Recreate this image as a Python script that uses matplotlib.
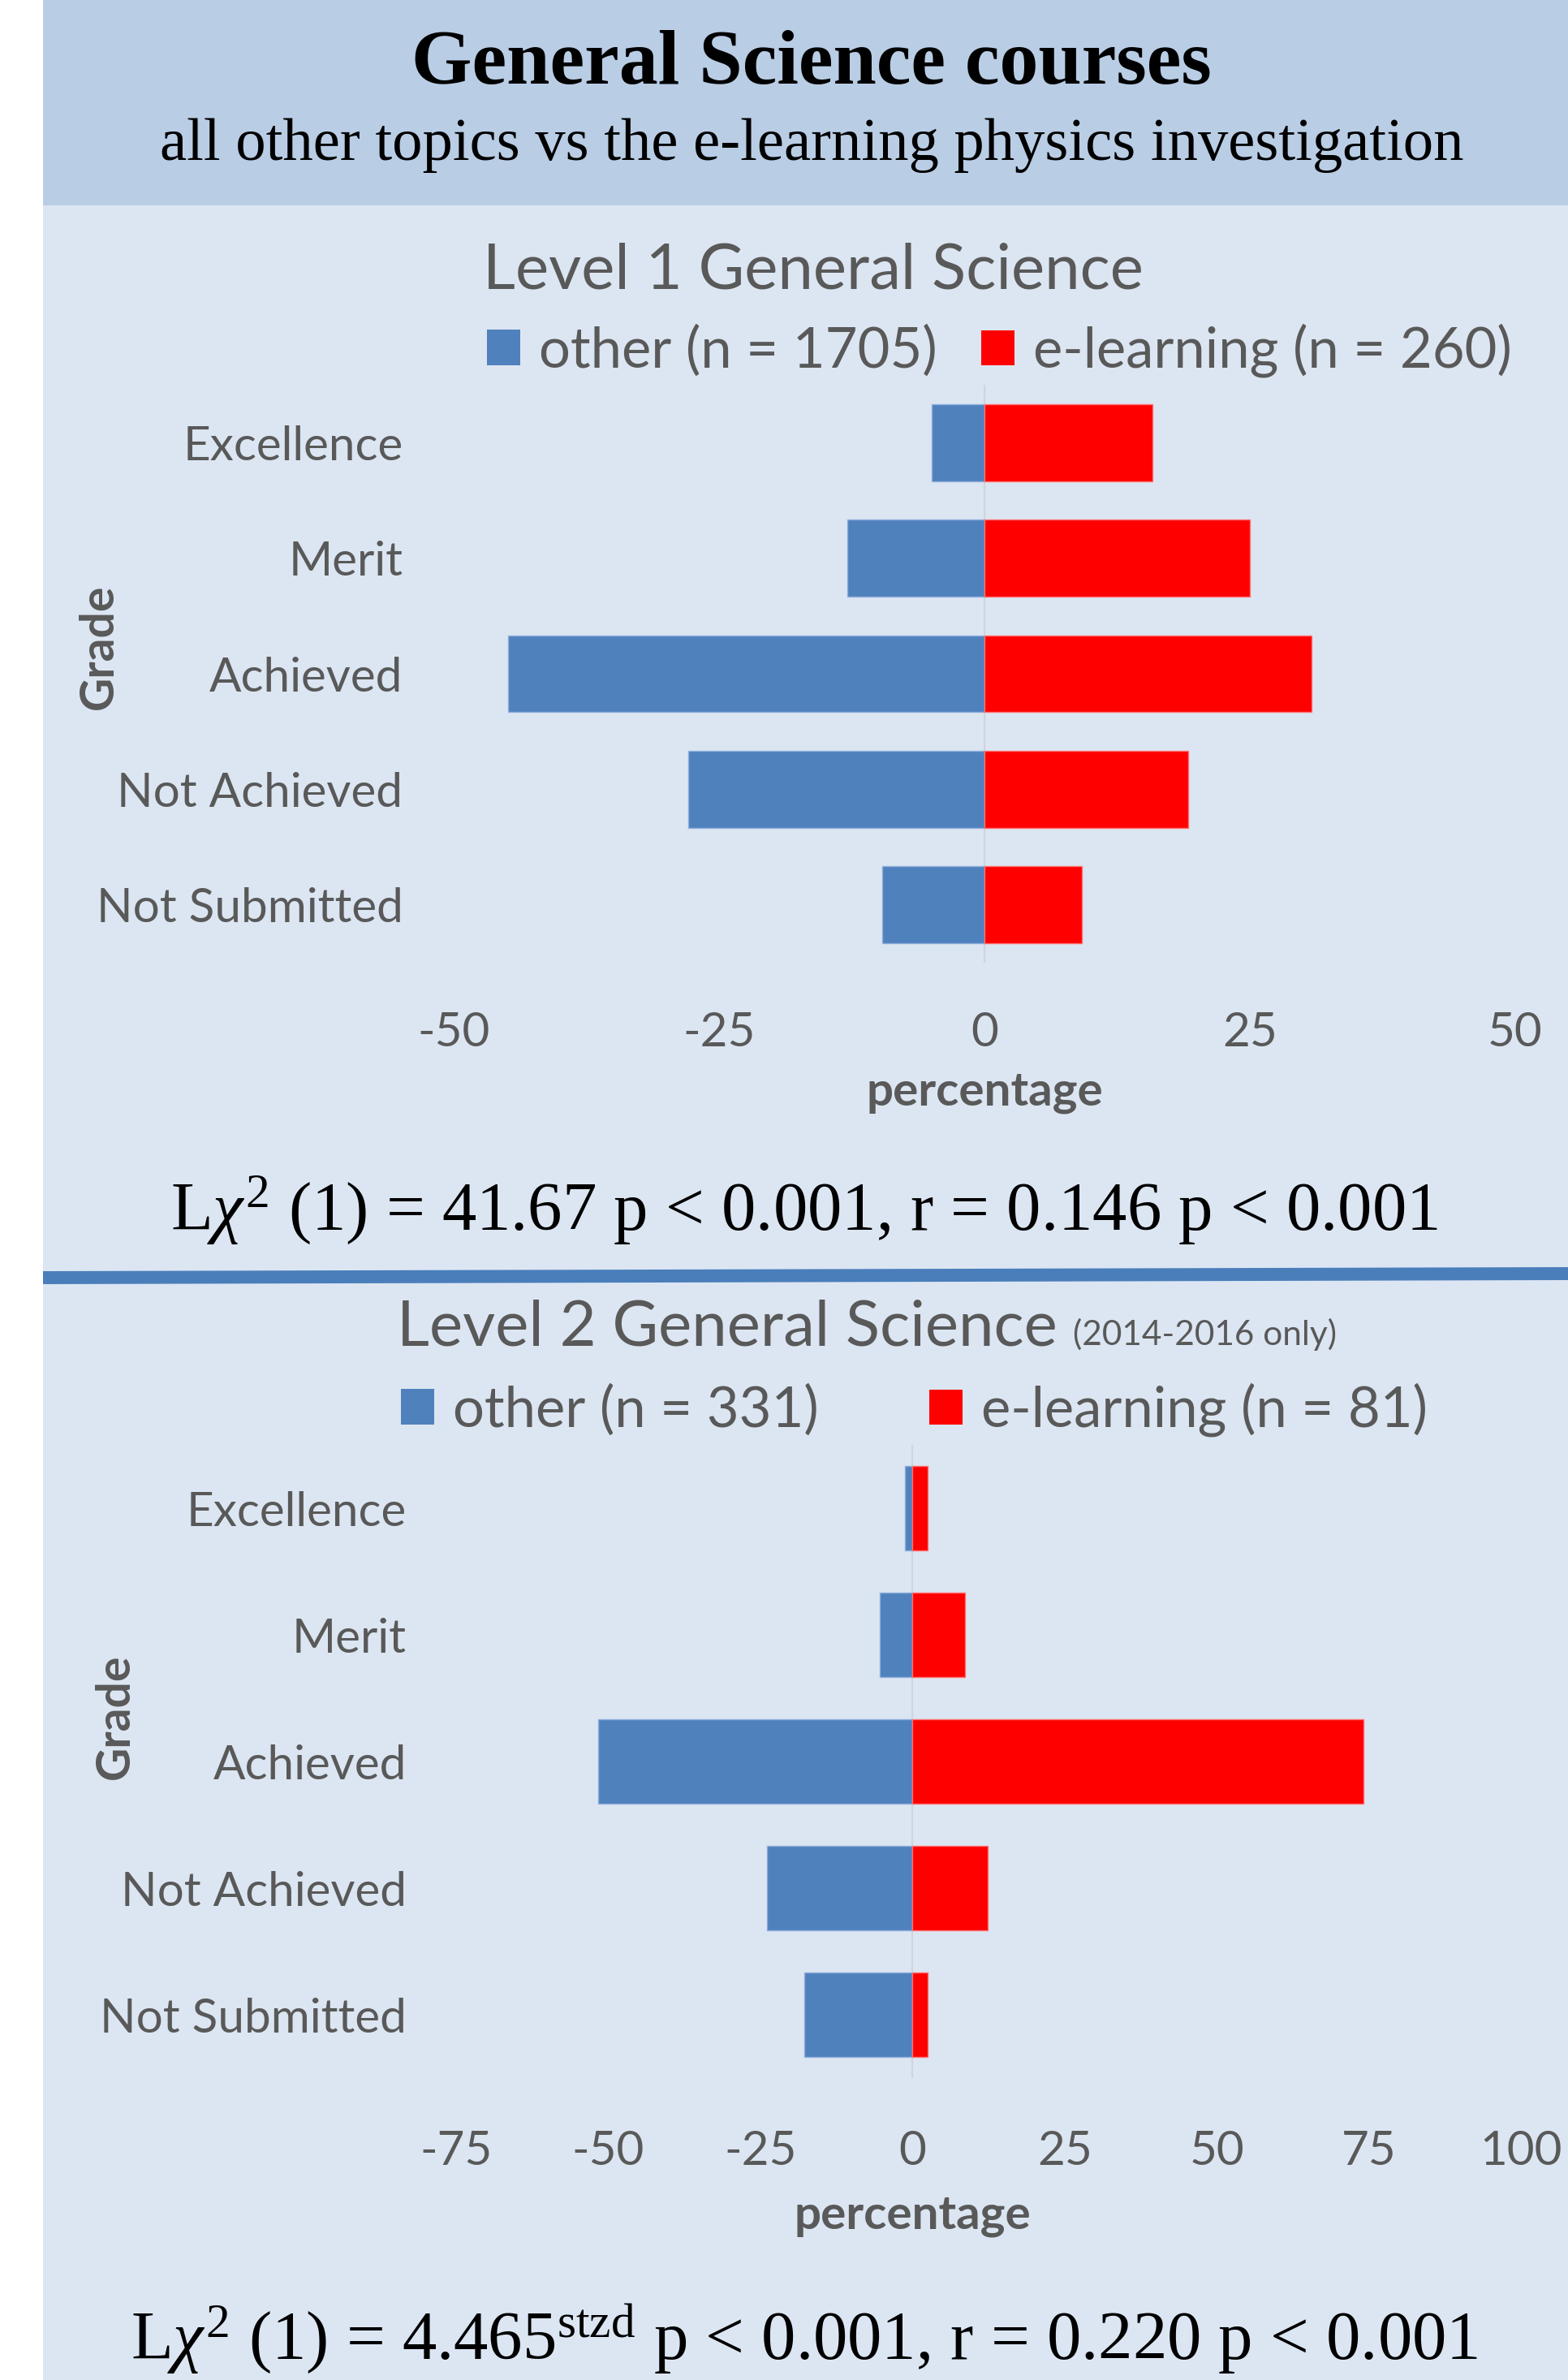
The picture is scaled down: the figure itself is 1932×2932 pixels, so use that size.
import numpy as np
import matplotlib
matplotlib.use("Agg")
import matplotlib.pyplot as plt
from matplotlib.patches import Rectangle, Patch
from matplotlib.lines import Line2D
from matplotlib.text import Annotation
import matplotlib.transforms as mtransforms

# ---------------------------------------------------------------- data
grades = ["Excellence", "Merit", "Achieved", "Not Achieved", "Not Submitted"]

# Level 1 General Science: percentage of results in each grade
l1_other = [5.0, 12.9, 44.9, 27.9, 9.6]
l1_elearn = [15.8, 25.0, 30.8, 19.2, 9.2]
l1_n_other, l1_n_elearn = 1705, 260
l1_ticks = [-50, -25, 0, 25, 50]
l1_stat = r"L$\chi^2$ (1) = 41.67 p < 0.001, r = 0.146 p < 0.001"

# Level 2 General Science (2014-2016 only)
l2_other = [1.2, 5.4, 51.7, 23.9, 17.8]
l2_elearn = [2.5, 8.6, 74.1, 12.3, 2.5]
l2_n_other, l2_n_elearn = 331, 81
l2_ticks = [-75, -50, -25, 0, 25, 50, 75, 100]
l2_stat = r"L$\chi^2$ (1) = 4.465$^{\mathrm{stzd}}$ p < 0.001, r = 0.220 p < 0.001"

# ---------------------------------------------------------------- style
plt.rcParams["font.family"] = ["Lato", "DejaVu Sans"]
plt.rcParams["axes.unicode_minus"] = False
plt.rcParams["mathtext.fontset"] = "custom"
plt.rcParams["mathtext.rm"] = "Liberation Serif"
plt.rcParams["mathtext.it"] = "Liberation Serif:italic"
plt.rcParams["mathtext.bf"] = "Liberation Serif:bold"

BLUE = "#4F81BD"
RED = "#FF0000"
GRAY = "#595959"
HEADER = "#B9CDE5"
BODY = "#DCE6F2"
RULE = "#4A7EBB"
SERIF = "Liberation Serif"

W, H = 1932, 2932
fig = plt.figure(figsize=(W / 100, H / 100), dpi=100, facecolor="white")


def fx(x):
    return x / W


def fy(y):
    return 1 - y / H


# background bands
fig.add_artist(Rectangle((fx(53), fy(253)), 1 - fx(53), fy(0) - fy(253),
                         transform=fig.transFigure, facecolor=HEADER,
                         edgecolor="none", zorder=0))
fig.add_artist(Rectangle((fx(53), 0), 1 - fx(53), fy(253),
                         transform=fig.transFigure, facecolor=BODY,
                         edgecolor="none", zorder=0))

# heading
fig.text(fx(1000), fy(103), "General Science courses", family=SERIF,
         weight="bold", fontsize=69, ha="center", va="baseline")
fig.text(fx(1000), fy(197), "all other topics vs the e-learning physics investigation",
         family=SERIF, fontsize=53.7, ha="center", va="baseline")

# rule between the two panels
fig.add_artist(Line2D([fx(53), 1.0], [fy(1574), fy(1569)],
                      transform=fig.transFigure, color=RULE, lw=11.5,
                      solid_capstyle="butt"))


def panel(box, other, elearn, ticks, tick_pad, cat_pad, xlab_y, grade_xy):
    left, top, right, bottom = box
    ax = fig.add_axes([fx(left), fy(bottom), fx(right) - fx(left), fy(top) - fy(bottom)])
    ax.set_facecolor("none")
    y = np.arange(len(grades))
    ax.axvline(0, color="#D0D5DB", lw=1.6, zorder=1)
    ax.barh(y, -np.asarray(other), height=0.667, color=BLUE,
            edgecolor="#8FAEDB", linewidth=1.0, zorder=3)
    ax.barh(y, elearn, height=0.667, color=RED,
            edgecolor="#FF6F6F", linewidth=1.0, zorder=3)
    ax.set_ylim(len(grades) - 0.5, -0.5)
    ax.set_xlim(ticks[0], ticks[-1])
    ax.set_xticks(ticks)
    ax.set_yticks(y, grades)
    ax.tick_params(axis="x", length=0, pad=tick_pad, labelsize=42, labelcolor=GRAY)
    ax.tick_params(axis="y", length=0, pad=cat_pad, labelsize=42, labelcolor=GRAY)
    for s in ax.spines.values():
        s.set_visible(False)
    ax.set_xlabel("percentage", fontsize=42, weight="bold", color=GRAY)
    ax.xaxis.set_label_coords(0, xlab_y,
                              transform=mtransforms.blended_transform_factory(ax.transData, ax.transAxes))
    ax.xaxis.label.set_va("center")
    ax.set_ylabel("Grade", fontsize=41, weight="bold", color=GRAY)
    ax.yaxis.set_label_coords(*grade_xy)
    ax.yaxis.label.set_va("center")
    return ax


def legend(x_blue, x_red, yc, lab_other, lab_elearn):
    for x, col, lab in ((x_blue, BLUE, lab_other), (x_red, RED, lab_elearn)):
        fig.legend(handles=[Patch(facecolor=col, edgecolor="none")], labels=[lab],
                   loc="center left", bbox_to_anchor=(fx(x), fy(yc)),
                   bbox_transform=fig.transFigure, frameon=False, fontsize=49.5,
                   labelcolor=GRAY, borderpad=0, borderaxespad=0,
                   handlelength=0.6, handleheight=0.6, handletextpad=0.33)


# ---------------------------------------------------------------- Level 1
fig.text(fx(1002), fy(355), "Level 1 General Science", fontsize=56,
         color=GRAY, ha="center", va="baseline")
legend(600, 1209, 432, f"other (n = {l1_n_other})", f"e-learning (n = {l1_n_elearn})")
panel((559, 474, 1867, 1186), l1_other, l1_elearn, l1_ticks,
      tick_pad=43, cat_pad=45, xlab_y=-0.224, grade_xy=(-0.334, 0.546))
fig.text(fx(991), fy(1515), l1_stat, family=SERIF, fontsize=61,
         ha="center", va="baseline")

# ---------------------------------------------------------------- Level 2
t2 = fig.text(fx(489), fy(1657), "Level 2 General Science", fontsize=56,
              color=GRAY, ha="left", va="baseline")
fig.add_artist(Annotation(
    "(2014-2016 only)", xy=(1, 0), xycoords=t2, xytext=(14, 10),
    textcoords="offset points", fontsize=30.5, color=GRAY, ha="left", va="baseline"))
legend(494, 1145, 1737, f"other (n = {l2_n_other})", f"e-learning (n = {l2_n_elearn})")
panel((562, 1780, 1874, 2560), l2_other, l2_elearn, l2_ticks,
      tick_pad=46, cat_pad=44, xlab_y=-0.217, grade_xy=(-0.320, 0.5705))
fig.text(fx(991), fy(2907), l2_stat, family=SERIF, fontsize=61,
         ha="center", va="baseline")

fig.savefig("out.png", dpi=100, facecolor="white")
